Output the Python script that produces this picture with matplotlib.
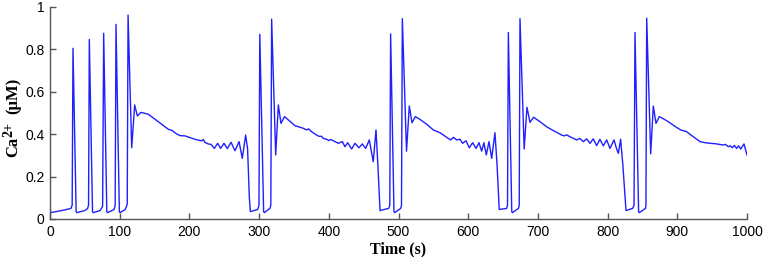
import matplotlib
matplotlib.use("Agg")
import matplotlib.pyplot as plt

# Time (s) and Ca2+ (uM)
burst_t = [0, 1, 20, 30, 31.8, 33, 37.5, 38.5, 50, 54, 55.3, 56.4, 61, 62, 72, 75.5, 77, 81.5, 82.5,
           92, 93.5, 94.7, 99.5, 100.5, 108, 110.8, 112]
burst_v = [0.065, 0.03, 0.042, 0.05, 0.065, 0.805, 0.035, 0.03, 0.04, 0.05, 0.065, 0.847, 0.035, 0.03, 0.04, 0.06, 0.876, 0.035, 0.03,
           0.045, 0.065, 0.918, 0.035, 0.03, 0.045, 0.07, 0.962]

plat1_t = [117.2, 121.5, 125.3, 130.6, 141, 155.4, 169.8, 175, 181.7, 187, 193.7, 200, 208, 213, 217.6, 220, 222, 227, 231,
           235.8, 240.5, 244.8, 249.6, 254.4, 259.7, 265.4, 271.2, 275.9, 280.7, 283.5, 286, 287.5]
plat1_v = [0.336, 0.538, 0.486, 0.503, 0.494, 0.459, 0.423, 0.418, 0.401, 0.393, 0.392, 0.385, 0.376, 0.372, 0.369, 0.375, 0.362, 0.354, 0.352,
           0.333, 0.357, 0.333, 0.357, 0.332, 0.362, 0.322, 0.365, 0.286, 0.396, 0.33, 0.1, 0.035]

pair2_t = [298, 299.8, 301, 306.5, 307.5, 315.5, 316.8, 318]
pair2_v = [0.045, 0.065, 0.871, 0.035, 0.03, 0.05, 0.065, 0.943]

plat2_t = [323.8, 327.6, 331.4, 336.5, 351.5, 363.4, 368, 371, 376, 382.6, 386, 389.8, 392, 397, 400, 403, 408.9,
           413.7, 419.4, 423.2, 427.1, 432.8, 437.6, 443.3, 448.1, 452.9, 458.1, 463.8, 467.7, 470.5, 473.5]
plat2_v = [0.302, 0.538, 0.451, 0.483, 0.44, 0.428, 0.42, 0.425, 0.41, 0.396, 0.39, 0.39, 0.38, 0.376, 0.37, 0.375, 0.365,
           0.357, 0.365, 0.341, 0.36, 0.33, 0.357, 0.336, 0.354, 0.333, 0.373, 0.27, 0.42, 0.25, 0.04]

pair3_t = [486, 487.5, 488.7, 493.5, 494.5, 503.2, 504.3, 505.5]
pair3_v = [0.05, 0.065, 0.873, 0.035, 0.03, 0.05, 0.065, 0.945]

plat3_t = [511.5, 515.5, 519.4, 524.2, 530.8, 540.4, 550, 559.5, 569.2, 574.8, 578.7, 583.5, 588.2, 592, 596.8, 601.6,
           606.4, 611.2, 615.5, 619.3, 622.5, 626, 629.8, 633.7, 638.4, 641.5, 644.5]
plat3_v = [0.32, 0.533, 0.454, 0.483, 0.47, 0.447, 0.42, 0.407, 0.385, 0.373, 0.385, 0.373, 0.376, 0.357, 0.369, 0.336,
           0.36, 0.333, 0.36, 0.32, 0.36, 0.302, 0.365, 0.286, 0.407, 0.25, 0.045]

pair4_t = [655.2, 656.4, 657.6, 662.5, 663.5, 672.2, 673.2, 674.3]
pair4_v = [0.05, 0.065, 0.88, 0.035, 0.03, 0.05, 0.065, 0.945]

plat4_t = [680.3, 684.3, 688.7, 693.8, 703, 712.6, 722.1, 734.1, 738, 741, 748.4, 755.6, 760, 765.2, 770, 774.7, 779.5,
           784.3, 789, 793.8, 798.7, 803.4, 809.2, 813, 815.4, 818.7, 822, 826.4]
plat4_v = [0.33, 0.527, 0.456, 0.48, 0.459, 0.435, 0.417, 0.396, 0.392, 0.397, 0.384, 0.373, 0.38, 0.365, 0.378, 0.357, 0.378,
           0.346, 0.376, 0.345, 0.373, 0.333, 0.373, 0.33, 0.31, 0.376, 0.25, 0.04]

pair5_t = [836, 837.9, 839.3, 844.5, 845.5, 854.3, 855, 856.1]
pair5_v = [0.05, 0.065, 0.88, 0.035, 0.03, 0.05, 0.065, 0.947]

plat5_t = [861.8, 865.6, 869.4, 874.2, 884.7, 899, 905, 913.4, 918, 923, 932.6, 940, 947, 955, 960, 966, 969, 973.2,
           976, 979, 982, 985, 988, 991, 995.7, 1000]
plat5_v = [0.307, 0.533, 0.451, 0.483, 0.464, 0.432, 0.42, 0.412, 0.4, 0.388, 0.365, 0.36, 0.357, 0.355, 0.352, 0.349, 0.352, 0.341,
           0.345, 0.336, 0.347, 0.333, 0.345, 0.33, 0.354, 0.302]

t = burst_t + plat1_t + pair2_t + plat2_t + pair3_t + plat3_t + pair4_t + plat4_t + pair5_t + plat5_t
v = burst_v + plat1_v + pair2_v + plat2_v + pair3_v + plat3_v + pair4_v + plat4_v + pair5_v + plat5_v

x_ticks = [0, 100, 200, 300, 400, 500, 600, 700, 800, 900, 1000]
y_ticks = [0, 0.2, 0.4, 0.6, 0.8, 1]
y_ticklabels = ["0", "0.2", "0.4", "0.6", "0.8", "1"]

W, H = 765, 257
fig = plt.figure(figsize=(W / 100, H / 100), dpi=100)
ax = fig.add_axes([50 / W, 1 - 219 / H, 697 / W, 212 / H])
ax.plot(t, v, color="#1f1fff", linewidth=1.0)

ax.set_xlim(0, 1000)
ax.set_ylim(0, 1)
ax.set_xticks(x_ticks)
ax.set_xticklabels([str(x) for x in x_ticks])
ax.set_yticks(y_ticks)
ax.set_yticklabels(y_ticklabels)

for s in ["top", "right"]:
    ax.spines[s].set_visible(False)
for s in ["left", "bottom"]:
    ax.spines[s].set_color("#555555")
    ax.spines[s].set_linewidth(1.0)

ax.tick_params(direction="in", length=4, width=1, color="#555555", labelsize=10, pad=4)
for lab in ax.get_xticklabels() + ax.get_yticklabels():
    lab.set_family(["Liberation Sans", "DejaVu Sans"])

serif = ["Liberation Serif", "DejaVu Serif"]
ax.set_xlabel("Time (s)", family=serif, fontweight="bold", fontsize=11.5, labelpad=2)

# y label composed of pieces: "Ca", superscript "2+", " (μM)"
fig.text(21 / W, 1 - 157 / H, "Ca", rotation=90, ha="right", va="bottom",
         family=serif, fontweight="bold", fontsize=12)
fig.text(15.5 / W, 1 - 137 / H, "2+", rotation=90, ha="right", va="bottom",
         family=serif, fontweight="bold", fontsize=10)
fig.text(21 / W, 1 - 114 / H, "(\u03bcM)", rotation=90, ha="right", va="bottom",
         family=serif, fontweight="bold", fontsize=12)

fig.savefig("out.png", dpi=100)
